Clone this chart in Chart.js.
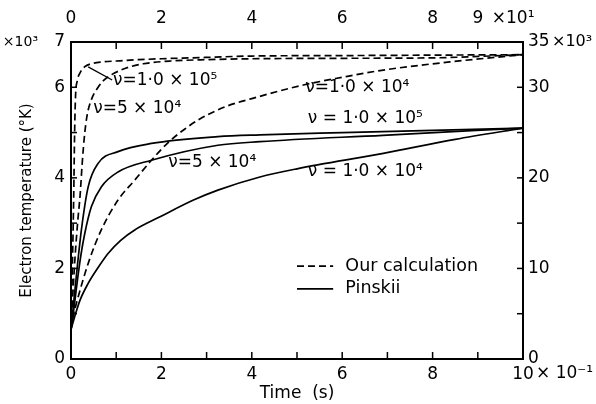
<!DOCTYPE html>
<html><head><meta charset="utf-8">
<script src="https://cdn.jsdelivr.net/npm/chart.js@4/dist/chart.umd.min.js"></script>
<style>html,body{margin:0;padding:0;background:#fff}</style>
</head><body>
<canvas id="c" width="596" height="404"></canvas>
<script>
// ---- data (time in units of 10^-1 s, temperature in units of 10^3 K) ----
const calcNu1e5Time = [0, 0.03, 0.06, 0.08, 0.1, 0.14, 0.2, 0.3, 0.45, 0.7, 1, 1.5, 2, 3, 4, 6, 8, 10];
const calcNu1e5Temp = [0.65, 2.0, 3.6, 5.0, 5.8, 6.15, 6.32, 6.45, 6.52, 6.56, 6.58, 6.61, 6.63, 6.66, 6.69, 6.7, 6.71, 6.72];
const calcNu5e4Time = [0, 0.05, 0.1, 0.15, 0.2, 0.25, 0.3, 0.36, 0.46, 0.6, 0.71, 0.9, 1.08, 1.3, 1.6, 2.2, 3, 4, 6, 8, 10];
const calcNu5e4Temp = [0.65, 1.6, 2.4, 3.05, 3.6, 4.35, 4.95, 5.4, 5.75, 6.0, 6.14, 6.28, 6.37, 6.45, 6.52, 6.58, 6.61, 6.63, 6.64, 6.65, 6.72];
const calcNu1e4Time = [0, 0.05, 0.12, 0.38, 0.67, 1.04, 1.41, 1.78, 2.15, 2.52, 2.85, 3.44, 4.0, 5.14, 6.0, 6.91, 8.38, 10];
const calcNu1e4Temp = [0.65, 0.95, 1.23, 2.11, 2.85, 3.51, 3.95, 4.39, 4.78, 5.08, 5.3, 5.58, 5.75, 6.05, 6.22, 6.38, 6.56, 6.72];
const pinNu1e5Time = [0, 0.04, 0.08, 0.12, 0.23, 0.38, 0.6, 1.04, 1.78, 3.25, 4.18, 6, 8, 10];
const pinNu1e5Temp = [0.65, 1.05, 1.45, 1.85, 2.85, 3.8, 4.32, 4.58, 4.76, 4.91, 4.95, 5.0, 5.05, 5.1];
const pinNu5e4Time = [0, 0.05, 0.1, 0.15, 0.22, 0.3, 0.45, 0.67, 1.04, 1.78, 3.25, 4.18, 6.9, 10];
const pinNu5e4Temp = [0.65, 1.0, 1.4, 1.8, 2.3, 2.75, 3.36, 3.8, 4.13, 4.39, 4.72, 4.8, 4.94, 5.1];
const pinNu1e4Time = [0, 0.08, 0.2, 0.38, 0.6, 0.82, 1.1, 1.41, 1.97, 2.71, 3.25, 4.18, 5, 6.91, 8.5, 10];
const pinNu1e4Temp = [0.65, 0.93, 1.3, 1.67, 2.02, 2.33, 2.62, 2.85, 3.14, 3.51, 3.73, 4.02, 4.2, 4.54, 4.85, 5.1];

// tick labels
const bottomTickLabels = [0, 2, 4, 6, 8, 10];
const topTickLabels = [0, 2, 4, 6, 8, 9];
const leftTickLabels = [0, 2, 4, 6, 7];
const rightTickLabels = [0, 10, 20, 30, 35];

// curve annotation texts and their anchor values (time, temperature)
const curveLabelTexts = ['ν=1·0 × 10⁵', 'ν=5 × 10⁴', 'ν=1·0 × 10⁴', 'ν = 1·0 × 10⁵', 'ν=5 × 10⁴', 'ν = 1·0 × 10⁴'];
const curveLabelTime = [0.93, 0.49, 5.18, 5.24, 2.15, 5.24];
const curveLabelTemp = [6.14, 5.54, 6.0, 5.3, 4.33, 4.13];
const legendTexts = ['Our calculation', 'Pinskii'];

const FONT = "'DejaVu Sans', sans-serif";
const pts = (t, v) => t.map((x, i) => ({x, y: v[i]}));
const dashed = [7, 4];
const mk = (t, v, dash) => ({data: pts(t, v), borderColor: '#000', borderWidth: 1.7, borderDash: dash, pointRadius: 0, fill: false, cubicInterpolationMode: 'monotone', xAxisID: 'x', yAxisID: 'y'});

const deco = {
  id: 'deco',
  afterDraw(chart) {
    const ctx = chart.ctx, s = chart.scales, a = chart.chartArea;
    const line = (x1, y1, x2, y2) => { ctx.beginPath(); ctx.moveTo(x1, y1); ctx.lineTo(x2, y2); ctx.stroke(); };
    ctx.save();
    ctx.strokeStyle = '#000'; ctx.lineWidth = 1.5; ctx.setLineDash([]);
    for (let v = 1; v < 10; v++) { const p = s.x.getPixelForValue(v); line(p, a.bottom, p, a.bottom - 7); }
    for (let v = 1; v < 10; v++) { const p = s.x2.getPixelForValue(v); line(p, a.top, p, a.top + 7); }
    for (let v = 1; v < 7; v++) { const p = s.y.getPixelForValue(v); line(a.left, p, a.left + 6, p); }
    for (let v = 5; v < 35; v += 5) { const p = s.y2.getPixelForValue(v); line(a.right, p, a.right - 6, p); }
    ctx.fillStyle = '#000';
    ctx.textBaseline = 'middle';
    ctx.textAlign = 'right';
    ctx.font = '14px ' + FONT;
    ctx.fillText('×10³', a.left - 33, s.y.getPixelForValue(7));
    ctx.textAlign = 'left';
    ctx.font = '16px ' + FONT;
    ctx.fillText('×10³', a.right + 29, s.y2.getPixelForValue(35));
    ctx.font = '17px ' + FONT;
    ctx.fillText('×10¹', s.x2.getPixelForValue(9) + 14, a.top - 23);
    ctx.fillText('× 10⁻¹', s.x.getPixelForValue(10) + 13, a.bottom + 15);
    // curve labels
    curveLabelTexts.forEach((t, i) => ctx.fillText(t, s.x.getPixelForValue(curveLabelTime[i]), s.y.getPixelForValue(curveLabelTemp[i])));
    // leader line
    ctx.lineWidth = 1.3;
    line(s.x.getPixelForValue(0.38), s.y.getPixelForValue(6.45), s.x.getPixelForValue(0.91), s.y.getPixelForValue(6.16));
    // legend
    const lx0 = s.x.getPixelForValue(5.0), lx1 = s.x.getPixelForValue(5.8), tx = s.x.getPixelForValue(6.07);
    const r1 = s.y.getPixelForValue(2.05), r2 = s.y.getPixelForValue(1.55);
    ctx.lineWidth = 1.7;
    ctx.setLineDash(dashed); line(lx0, r1, lx1, r1);
    ctx.setLineDash([]); line(lx0, r2, lx1, r2);
    ctx.font = '17.5px ' + FONT;
    ctx.fillText(legendTexts[0], tx, r1);
    ctx.fillText(legendTexts[1], tx, r2);
    ctx.restore();
  }
};

const tickFont = {family: FONT, size: 17};
const axisBase = {grid: {display: false, drawTicks: false}, border: {display: true, color: '#000', width: 2}};

new Chart(document.getElementById('c'), {
  type: 'line',
  data: {datasets: [
    mk(calcNu1e5Time, calcNu1e5Temp, dashed),
    mk(calcNu5e4Time, calcNu5e4Temp, dashed),
    mk(calcNu1e4Time, calcNu1e4Temp, dashed),
    mk(pinNu1e5Time, pinNu1e5Temp, []),
    mk(pinNu5e4Time, pinNu5e4Temp, []),
    mk(pinNu1e4Time, pinNu1e4Temp, [])
  ]},
  options: {
    responsive: false, animation: false,
    layout: {padding: 0},
    plugins: {legend: {display: false}, tooltip: {enabled: false}},
    scales: {
      x: {...axisBase, type: 'linear', position: 'bottom', min: 0, max: 10,
        ticks: {padding: 5, color: '#000', font: tickFont, autoSkip: false, maxRotation: 0, callback: v => String(v)},
        afterBuildTicks: sc => { sc.ticks = bottomTickLabels.map(v => ({value: v})); },
        afterFit: sc => { sc.height = 45; },
        title: {display: true, text: 'Time  (s)', color: '#000', font: {family: FONT, size: 17}, padding: {top: 0, bottom: 0}}
      },
      x2: {...axisBase, type: 'linear', position: 'top', min: 0, max: 10,
        ticks: {padding: 13, color: '#000', font: tickFont, autoSkip: false, maxRotation: 0, callback: v => String(v)},
        afterBuildTicks: sc => { sc.ticks = topTickLabels.map(v => ({value: v})); },
        afterFit: sc => { sc.height = 42; }
      },
      y: {...axisBase, type: 'linear', position: 'left', min: 0, max: 7,
        ticks: {padding: 6, color: '#000', font: tickFont, autoSkip: false, callback: v => String(v)},
        afterBuildTicks: sc => { sc.ticks = leftTickLabels.map(v => ({value: v})); },
        afterFit: sc => { sc.width = 71; },
        title: {display: true, text: 'Electron temperature (°K)', color: '#000', font: {family: FONT, size: 15}, padding: {top: 18, bottom: 0}}
      },
      y2: {...axisBase, type: 'linear', position: 'right', min: 0, max: 35,
        ticks: {padding: 5, color: '#000', font: tickFont, autoSkip: false, callback: v => String(v)},
        afterBuildTicks: sc => { sc.ticks = rightTickLabels.map(v => ({value: v})); },
        afterFit: sc => { sc.width = 73; }
      }
    }
  },
  plugins: [deco]
});
</script>
</body></html>
